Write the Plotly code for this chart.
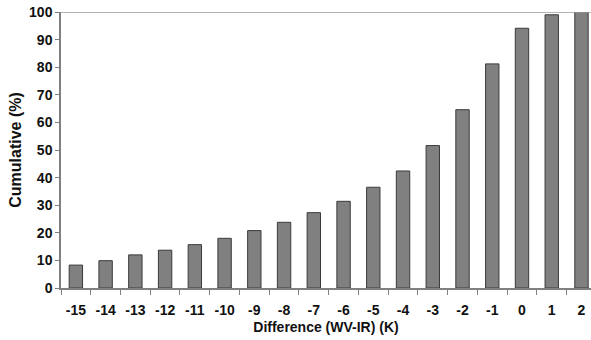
import plotly.graph_objects as go

categories = ["-15", "-14", "-13", "-12", "-11", "-10", "-9", "-8", "-7", "-6",
              "-5", "-4", "-3", "-2", "-1", "0", "1", "2"]
cumulative = [8.3, 9.9, 12.0, 13.7, 15.7, 18.0, 20.8, 23.8, 27.3, 31.4,
              36.5, 42.4, 51.6, 64.6, 81.2, 94.1, 99.0, 100.0]
y_ticks = [0, 10, 20, 30, 40, 50, 60, 70, 80, 90, 100]

FONT = "Liberation Sans, Arial, sans-serif"

fig = go.Figure()
fig.add_trace(go.Bar(
    x=categories, y=cumulative,
    marker=dict(color="#808080", line=dict(color="#3a3a3a", width=1)),
    width=0.45,
))

fig.add_hline(y=100, line=dict(color="#9a9a9a", width=1.5))

fig.update_layout(
    width=591, height=340,
    margin=dict(l=61, r=0, t=12, b=52),
    plot_bgcolor="white", paper_bgcolor="white",
    showlegend=False,
    xaxis=dict(
        type="category",
        range=[-0.5, 17.32],
        autorange=False,
        automargin=False,
        showgrid=False,
        showline=True, linecolor="#808080", linewidth=1.5,
        ticks="outside", tickson="boundaries", ticklen=5, tickcolor="#808080",
        ticklabelstandoff=8,
        tickfont=dict(family=FONT, size=14, color="#111", weight="bold"),
        title=dict(text="Difference (WV-IR) (K)",
                   font=dict(family=FONT, size=14, color="#111", weight="bold"),
                   standoff=6),
    ),
    yaxis=dict(
        range=[0, 100],
        autorange=False,
        automargin=False,
        tickvals=y_ticks,
        showgrid=False, zeroline=False,
        showline=True, linecolor="#808080", linewidth=1.5,
        ticks="outside", ticklen=4, tickcolor="#808080",
        tickfont=dict(family=FONT, size=14, color="#111", weight="bold"),
        title=dict(text="Cumulative (%)",
                   font=dict(family=FONT, size=16, color="#111", weight="bold"),
                   standoff=3),
    ),
)

fig.write_html(
    "out.html",
    config={"displayModeBar": False},
    post_script="document.body.style.margin='0';document.body.style.overflow='hidden';",
)
